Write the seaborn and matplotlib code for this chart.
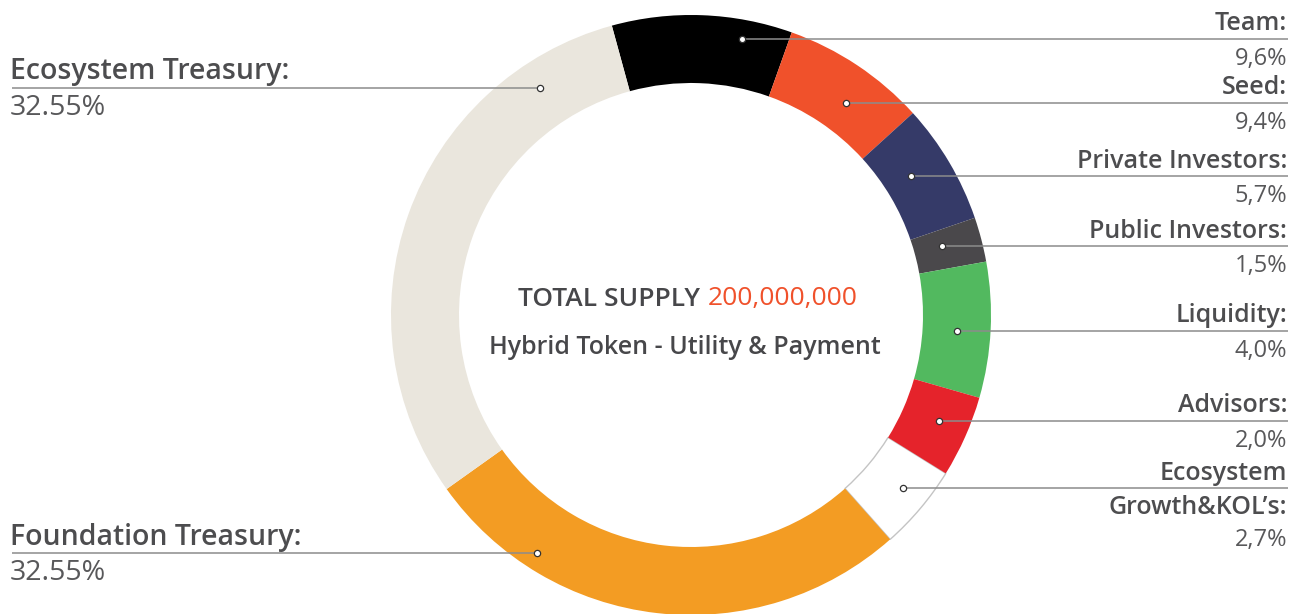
import matplotlib
matplotlib.use("Agg")
import matplotlib.pyplot as plt
import seaborn as sns

# slices clockwise from the top (Team first)
names = ["Team:", "Seed:", "Private Investors:", "Public Investors:", "Liquidity:",
         "Advisors:", "Ecosystem\nGrowth&KOL’s:", "Foundation Treasury:", "Ecosystem Treasury:"]
pct_labels = ["9,6%", "9,4%", "5,7%", "1,5%", "4,0%", "2,0%", "2,7%", "32.55%", "32.55%"]
# arc share of each slice as drawn in the ring (% of the circle)
ring_share = [9.7, 7.8, 6.5, 2.4, 7.3, 4.4, 4.6, 26.7, 30.6]
colors = ["#000000", "#F0512B", "#353A68", "#4A484B", "#52B95F",
          "#E5232B", "#FFFFFF", "#F39C23", "#EAE6DD"]
supply_title = "TOTAL SUPPLY"
supply_value = "200,000,000"
subtitle = "Hybrid Token - Utility & Payment"

sns.set_theme(style="white")
plt.rcParams['font.family'] = ['Open Sans', 'DejaVu Sans']

fig = plt.figure(figsize=(12.9, 6.14), dpi=100)
ax = fig.add_axes([0, 0, 1, 1])

cx, cy = 691, 315
r_out, r_in = 300, 232
# y axis runs downwards (pixel style), so counterclock=True draws clockwise on screen
wedges, _ = ax.pie(ring_share, colors=sns.color_palette(colors), startangle=254.7,
                   counterclock=True, center=(cx, cy), radius=r_out,
                   wedgeprops=dict(width=r_out - r_in, linewidth=0))
for w in wedges:
    w.set_zorder(2)
wedges[6].set_edgecolor("#c4c4c4")
wedges[6].set_linewidth(1.0)
wedges[6].set_zorder(1)

ax.set_aspect("equal")
ax.set_xlim(0, 1290)
ax.set_ylim(614, 0)
ax.axis("off")

name_col = "#4D4D4F"
val_col = "#58585A"
line_col = "#8C8C8C"
fs_name, fs_val = 18, 17
fs_left = 20.5
fs_mid = 18

# leader anchors (dot) and line height for the right-hand labels
right_dots = [(742, 39), (846, 103), (911, 176), (942, 246), (957, 331), (939, 421), (903, 488)]
for i, (dx, dy) in enumerate(right_dots):
    ax.plot([dx, 1288], [dy, dy], color=line_col, lw=1.1, zorder=4, solid_capstyle="butt")
    ax.plot(dx, dy, "o", ms=4.5, mfc="white", mec="#333333", mew=0.9, zorder=5)
    if i == 6:
        top, bottom = names[i].split("\n")
        ax.text(1287, dy - 15, top, ha="right", va="center", fontsize=fs_name,
                fontweight="semibold", color=name_col)
        ax.text(1287, dy + 19, bottom, ha="right", va="center", fontsize=fs_name,
                fontweight="semibold", color=name_col)
        ax.text(1287, dy + 52, pct_labels[i], ha="right", va="center", fontsize=fs_val,
                fontweight="normal", color=val_col)
    else:
        ax.text(1287, dy - 15, names[i], ha="right", va="center", fontsize=fs_name,
                fontweight="semibold", color=name_col)
        ax.text(1287, dy + 20, pct_labels[i], ha="right", va="center", fontsize=fs_val,
                fontweight="normal", color=val_col)

# left-hand labels
left_dots = {7: (537, 553), 8: (540, 88)}
for i, (dx, dy) in left_dots.items():
    ax.plot([12, dx], [dy, dy], color=line_col, lw=1.1, zorder=4, solid_capstyle="butt")
    ax.plot(dx, dy, "o", ms=4.5, mfc="white", mec="#333333", mew=0.9, zorder=5)
    ax.text(10, dy - 16, names[i], ha="left", va="center", fontsize=fs_left,
            fontweight="semibold", color=name_col)
    ax.text(10, dy + 20, pct_labels[i], ha="left", va="center", fontsize=fs_left,
            fontweight="normal", color=val_col)

# centre text
ax.text(700, 299, supply_title, ha="right", va="center", fontsize=19,
        fontweight="semibold", color="#47474A")
ax.text(708, 299, supply_value, ha="left", va="center", fontsize=19,
        fontweight="normal", color="#F0512B")
ax.text(685, 347, subtitle, ha="center", va="center", fontsize=fs_mid,
        fontweight="semibold", color="#47474A")

fig.savefig("out.png", dpi=100)
